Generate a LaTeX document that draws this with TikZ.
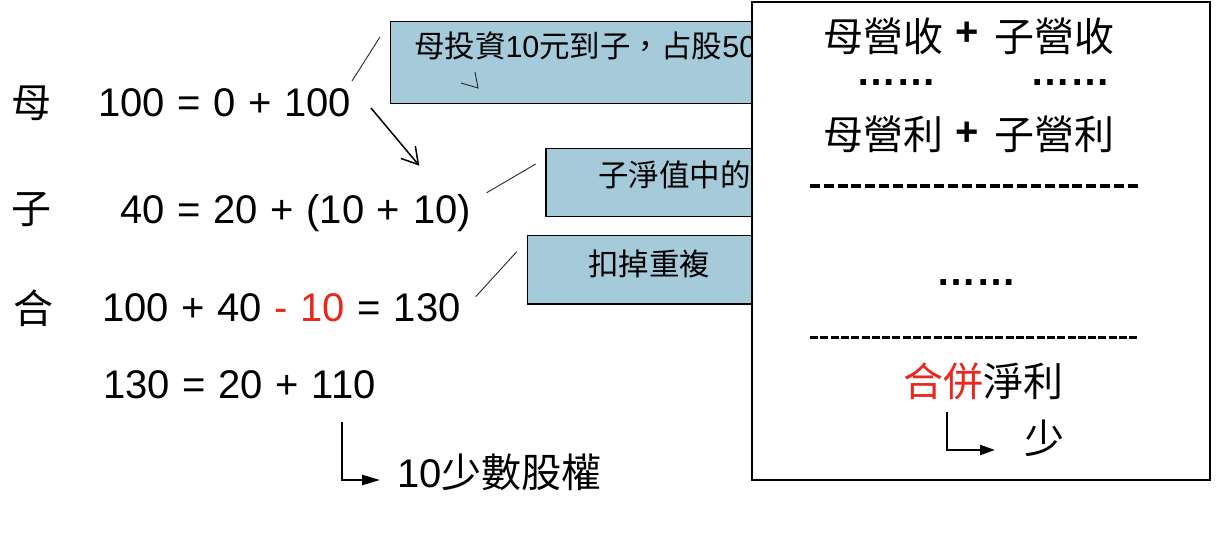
\documentclass[tikz,border=0pt]{standalone}
\usepackage{fontspec}
\setmainfont{Liberation Sans}
\newfontfamily\cjk{Noto Sans CJK TC}
\usetikzlibrary{arrows.meta}
\definecolor{boxblue}{RGB}{165,203,218}
\definecolor{redtxt}{RGB}{232,40,30}
\newcommand{\myeqsp}{\spaceskip=12.7pt\relax}
\begin{document}
\begin{tikzpicture}[x=1pt,y=-1pt,
  big/.style={inner sep=0pt, outer sep=0pt, font=\fontsize{40}{48}\selectfont},
  eqn/.style={inner sep=0pt, outer sep=0pt, anchor=base west, font=\fontsize{40}{48}\selectfont\myeqsp},
  bigbold/.style={inner sep=0pt, outer sep=0pt, font=\fontsize{40}{48}\selectfont\bfseries},
  small/.style={inner sep=0pt, outer sep=0pt, font=\fontsize{30.5}{36}\selectfont},
  bluebox/.style={draw=black, line width=1.3pt, fill=boxblue, inner sep=0pt, outer sep=0pt, anchor=north west},
  whitebox/.style={draw=black, line width=1.3pt, fill=white, inner sep=0pt, outer sep=0pt, anchor=north west},
  thinline/.style={line width=0.9pt, draw=black!85},
  openarrow/.style={line width=1.5pt, -{Straight Barb[length=16pt,width=19pt]}},
  elbowarrow/.style={line width=2.3pt, -{Triangle[length=#1,width=10pt]}},
  dashA/.style={line width=4pt, dash pattern=on 10pt off 3.81pt},
  dashB/.style={line width=3pt, dash pattern=on 8pt off 2.3pt}
]
\useasboundingbox (0,0) rectangle (1224,538);

% left column labels
\node[big] (lm) at (32,103) {\cjk 母};
\node[big] (lz) at (32,210) {\cjk 子};
\node[big] (lh) at (33,308) {\cjk 合};

% equations
\node[eqn] (e1) at (98,116) {100 = 0 + 100};
\node[eqn] (e2) at (120,223) {40 = 20 + (10 + 10)};
\node[eqn] (e3) at (102,321) {100 + 40 \textcolor{redtxt}{- 10} = 130};
\node[eqn] (e4) at (103,398) {130 = 20 + 110};
\node[big, anchor=base west] (e5) at (397,487) {10{\cjk 少數股權}};

% blue boxes
\node[bluebox, minimum width=390pt, minimum height=82pt] (b1) at (390.7,21.3) {};
\node[bluebox, minimum width=234pt, minimum height=68pt] (b2) at (546,148.3) {};
\node[bluebox, minimum width=253pt, minimum height=68.7pt] (b3) at (527.3,235.3) {};

\node[small, anchor=base west] (t1) at (414,57.5) {{\cjk 母投資}10{\cjk 元到子，占股}50};
\node[small, anchor=west] (t2) at (598,175) {\cjk 子淨值中的};
\node[small, anchor=west] (t3) at (588,264) {\cjk 扣掉重複};

% small mark inside box 1
\coordinate (mk1) at (475,72);
\coordinate (mk2) at (478,88);
\coordinate (mk3) at (461,83);
\draw[thinline] (mk1) -- (mk2) -- (mk3);

% callout lines
\coordinate (c1a) at (352,81);  \coordinate (c1b) at (380,37);
\coordinate (c2a) at (486.7,192.7); \coordinate (c2b) at (535.7,164);
\coordinate (c3a) at (475.7,296.7); \coordinate (c3b) at (516.7,251.7);
\draw[thinline] (c1a) -- (c1b);
\draw[thinline] (c2a) -- (c2b);
\draw[thinline] (c3a) -- (c3b);

% arrow from mother to child
\coordinate (a1s) at (371,108);
\coordinate (a1e) at (419.3,165.7);
\draw[openarrow] (a1s) -- (a1e);

% elbow arrow to minority interest
\coordinate (el1s) at (342,422);
\coordinate (el1e) at (380,480);
\draw[elbowarrow=18pt] (el1s) |- (el1e);

% right box
\node[whitebox, minimum width=458pt, minimum height=478pt] (rb) at (752,2) {};

\node[big] (r1a) at (883,36.5) {\cjk 母營收};
\node[bigbold] (r1p) at (967,34) {+};
\node[big] (r1b) at (1054,36.5) {\cjk 子營收};

\node[bigbold, anchor=base] (d1) at (896,85.5) {……};
\node[bigbold, anchor=base] (d2) at (1070,85.5) {……};

\node[big] (r2a) at (883,134) {\cjk 母營利};
\node[bigbold] (r2p) at (967,134) {+};
\node[big] (r2b) at (1054,134) {\cjk 子營利};

\coordinate (dl1a) at (810,185.7); \coordinate (dl1b) at (1138,185.7);
\draw[dashA] (dl1a) -- (dl1b);

\node[bigbold, anchor=base] (d3) at (976,285) {……};

\coordinate (dl2a) at (810,337.3); \coordinate (dl2b) at (1138,337.3);
\draw[dashB] (dl2a) -- (dl2b);

\node[big, anchor=west] (r3) at (903,381.5) {\cjk \textcolor{redtxt}{合併}淨利};

\coordinate (el2s) at (947.3,412.3);
\coordinate (el2e) at (995,450);
\draw[elbowarrow=15pt] (el2s) |- (el2e);

\node[big] (r4) at (1044,438) {\cjk 少};
\end{tikzpicture}
\end{document}
